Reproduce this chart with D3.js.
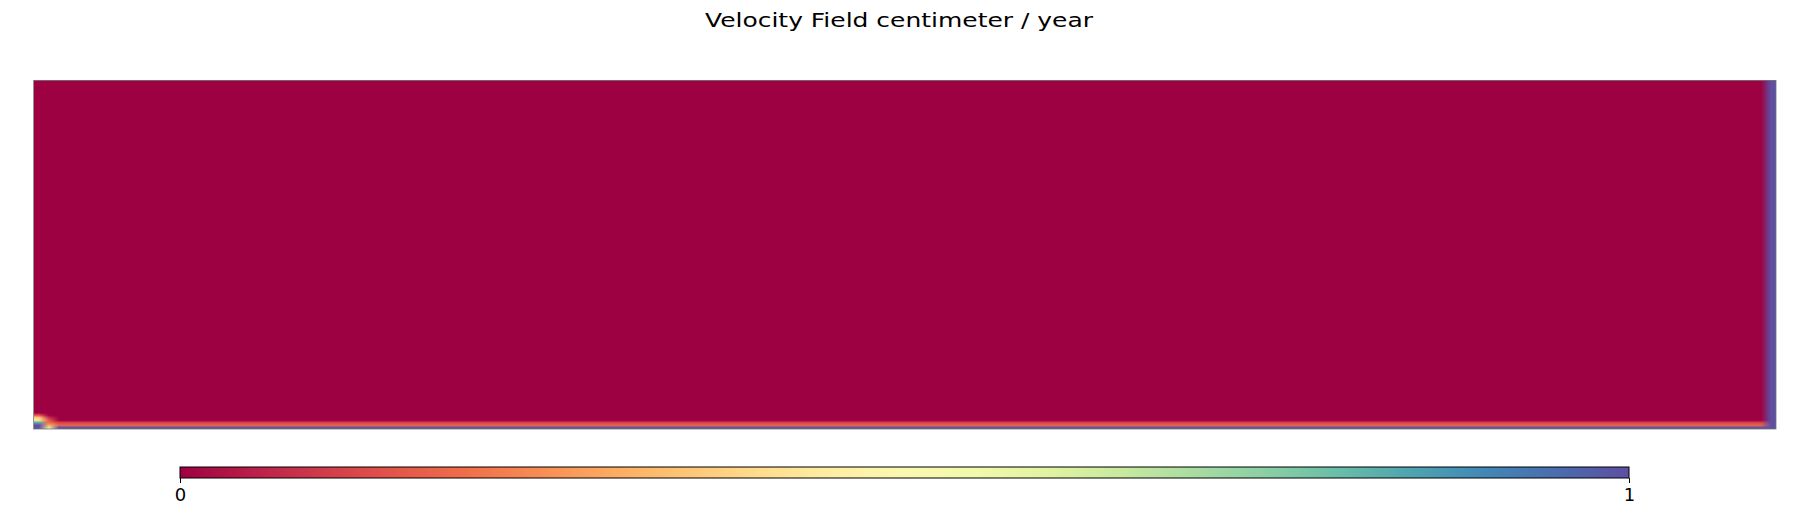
<!DOCTYPE html>
<html>
<head>
<meta charset="utf-8">
<script src="https://cdn.jsdelivr.net/npm/d3@7"></script>
<style>
  html, body { margin: 0; padding: 0; background: #fff; }
  svg { display: block; }
</style>
</head>
<body>
<svg id="chart" width="1810" height="510"></svg>
<script>
// ---------------- DATA ----------------
const titleText = "Velocity Field centimeter / year";
// mesh size of the velocity field (columns along x, rows along depth, row 0 = bottom)
const meshCols = 174;
const meshRows = 140;
const backgroundValue = 0;
// patches of non-background cells: [firstCol..lastCol] x [firstRow..lastRow] = value
const patchCols0 = [0,   0,   0,   173];
const patchCols1 = [173, 173, 173, 173];
const patchRows0 = [0,   1,   2,   0];
const patchRows1 = [0,   1,   2,   139];
const patchValues = [1.0, 0.18, 0.12, 1.0];
// left bottom corner cells (col 0 and col 1): rows from bottom
const cornerRows = [0, 1, 2, 3, 4, 5];
const cornerValuesCol0 = [1.0, 1.0, 0.85, 0.42, 0.38, 0.15];
const cornerValuesCol1 = [0.6, 0.3, 0.2, 0.15, 0.08, 0.0];
const colorDomain = [0, 1];
const colorTicks = [0, 1];

// ---------------- LAYOUT ----------------
const svg = d3.select("#chart");
const plot = { x0: 34, x1: 1776, y0: 80, y1: 429 };
const cbar = { x0: 180, x1: 1629, y0: 467, y1: 478 };
const FONT = "DejaVu Sans, Verdana, sans-serif";

const color = d3.scaleSequential(d3.interpolateSpectral).domain(colorDomain);

// build field matrix
const field = d3.range(meshRows).map(() => d3.range(meshCols).map(() => backgroundValue));
patchValues.forEach((v, i) => {
  for (let r = patchRows0[i]; r <= patchRows1[i]; r++)
    for (let c = patchCols0[i]; c <= patchCols1[i]; c++) field[r][c] = v;
});
cornerRows.forEach((r, i) => {
  field[r][0] = cornerValuesCol0[i];
  if (cornerValuesCol1[i] > 0) field[r][1] = cornerValuesCol1[i];
});

// scales from pixel position to mesh coordinate (cell centres)
const W = plot.x1 - plot.x0, H = plot.y1 - plot.y0;
const xMesh = d3.scaleLinear().domain([0, W]).range([-0.5, meshCols - 0.5]);
const yMesh = d3.scaleLinear().domain([0, H]).range([meshRows - 0.5, -0.5]);

const cellRGB = field.map(row => row.map(v => d3.rgb(color(v))));

const cnv = document.createElement("canvas");
cnv.width = W; cnv.height = H;
const ctx = cnv.getContext("2d");
const img = ctx.createImageData(W, H);
const clamp = (v, lo, hi) => Math.max(lo, Math.min(hi, v));
for (let py = 0; py < H; py++) {
  const gy = clamp(yMesh(py + 0.5), 0, meshRows - 1);
  const r0 = Math.floor(gy), r1 = Math.min(r0 + 1, meshRows - 1), fy = gy - r0;
  for (let px = 0; px < W; px++) {
    const gx = clamp(xMesh(px + 0.5), 0, meshCols - 1);
    const c0 = Math.floor(gx), c1 = Math.min(c0 + 1, meshCols - 1), fx = gx - c0;
    const a = cellRGB[r0][c0], b = cellRGB[r0][c1], c = cellRGB[r1][c0], d = cellRGB[r1][c1];
    const k = (py * W + px) * 4;
    img.data[k]     = (a.r * (1 - fx) + b.r * fx) * (1 - fy) + (c.r * (1 - fx) + d.r * fx) * fy;
    img.data[k + 1] = (a.g * (1 - fx) + b.g * fx) * (1 - fy) + (c.g * (1 - fx) + d.g * fx) * fy;
    img.data[k + 2] = (a.b * (1 - fx) + b.b * fx) * (1 - fy) + (c.b * (1 - fx) + d.b * fx) * fy;
    img.data[k + 3] = 255;
  }
}
ctx.putImageData(img, 0, 0);

svg.append("image")
  .attr("x", plot.x0).attr("y", plot.y0)
  .attr("width", W).attr("height", H)
  .attr("preserveAspectRatio", "none")
  .attr("href", cnv.toDataURL());

// frame
svg.append("rect")
  .attr("x", plot.x0 - 0.5).attr("y", plot.y0 + 0.5)
  .attr("width", W + 0.5).attr("height", H - 0.5)
  .attr("fill", "none").attr("stroke", "#777").attr("stroke-width", 1).attr("stroke-opacity", 0.8);

// title
svg.append("text")
  .attr("x", 899).attr("y", 27)
  .attr("text-anchor", "middle")
  .attr("font-family", FONT)
  .attr("font-size", 20)
  .attr("textLength", 388)
  .attr("lengthAdjust", "spacingAndGlyphs")
  .attr("fill", "#000")
  .text(titleText);

// colorbar
const defs = svg.append("defs");
const grad = defs.append("linearGradient").attr("id", "cb").attr("x1", "0%").attr("x2", "100%");
d3.range(0, 1.0001, 0.05).forEach(t => {
  grad.append("stop").attr("offset", (t * 100) + "%")
    .attr("stop-color", color(colorDomain[0] + t * (colorDomain[1] - colorDomain[0])));
});
svg.append("rect")
  .attr("x", cbar.x0).attr("y", cbar.y0)
  .attr("width", cbar.x1 - cbar.x0).attr("height", cbar.y1 - cbar.y0)
  .attr("fill", "url(#cb)").attr("stroke", "#000").attr("stroke-width", 1);

const cx = d3.scaleLinear().domain(colorDomain).range([cbar.x0, cbar.x1]);
const axis = d3.axisBottom(cx).tickValues(colorTicks).tickFormat(d3.format("d")).tickSize(5).tickPadding(5);
const ag = svg.append("g").attr("transform", `translate(0,${cbar.y1})`).call(axis);
ag.select(".domain").remove();
ag.selectAll("text").attr("font-family", FONT).attr("font-size", 18).attr("fill", "#000");
ag.selectAll("line").attr("stroke", "#000");
</script>
</body>
</html>
